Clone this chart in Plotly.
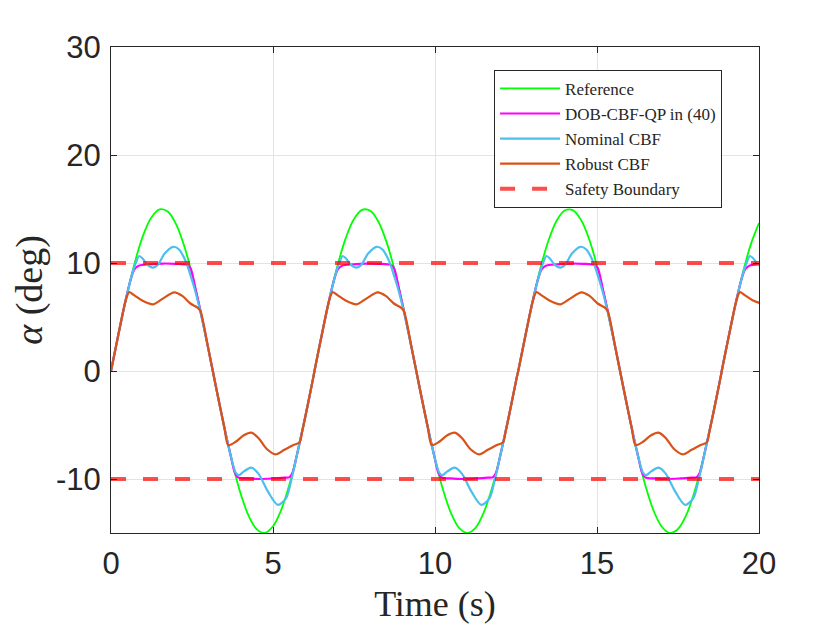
import plotly.graph_objects as go

# ---------------- data ----------------
# Reference trajectory (deg)
t_ref = [0, 0.25, 0.5, 0.75, 1.0, 1.25, 1.5, 1.75, 2.0, 2.25, 2.5, 2.75, 3.0, 3.25, 3.5, 3.75,
         4.0, 4.25, 4.5, 4.75, 5.0, 5.25, 5.5, 5.75, 6.0, 6.25, 6.5, 6.75, 7.0, 7.25, 7.5, 7.75,
         8.0, 8.25, 8.5, 8.75, 9.0, 9.25, 9.5, 9.75, 10.0, 10.25, 10.5, 10.75, 11.0, 11.25, 11.5,
         11.75, 12.0, 12.25, 12.5, 12.75, 13.0, 13.25, 13.5, 13.75, 14.0, 14.25, 14.5, 14.75, 15.0,
         15.25, 15.5, 15.75, 16.0, 16.25, 16.5, 16.75, 17.0, 17.25, 17.5, 17.75, 18.0, 18.25, 18.5,
         18.75, 19.0, 19.25, 19.5, 19.75, 20.0]
y_ref = [0, 3.71, 7.19, 10.22, 12.62, 14.23, 14.96, 14.76, 13.64, 11.67, 8.98, 5.73, 2.12, -1.62,
         -5.26, -8.57, -11.35, -13.42, -14.66, -14.99, -14.38, -12.88, -10.58, -7.62, -4.19, -0.50,
         3.23, 6.75, 9.86, 12.35, 14.07, 14.92, 14.84, 13.84, 11.98, 9.37, 6.18, 2.61, -1.13, -4.79,
         -8.16, -11.02, -13.20, -14.55, -15.00, -14.52, -13.13, -10.93, -8.05, -4.66, -0.99, 2.74,
         6.31, 9.48, 12.06, 13.89, 14.86, 14.90, 14.02, 12.27, 9.75, 6.63, 3.09, -0.63, -4.32, -7.74,
         -10.68, -12.96, -14.42, -15.00, -14.63, -13.37, -11.27, -8.47, -5.14, -1.49, 2.25, 5.85,
         9.08, 11.75, 13.69]

# DOB-CBF-QP in (40)
t_dob = [0, 0.25, 0.5, 0.62, 0.72, 0.85, 1.2, 1.6, 2.0, 2.35, 2.45, 2.6, 2.75, 3.0, 3.25, 3.5, 3.7,
         3.82, 3.92, 4.2, 4.6, 5.0, 5.35, 5.5, 5.6, 5.75, 6.0, 6.25,
         6.28, 6.53, 6.78, 6.90, 7.00, 7.13, 7.48, 7.88, 8.28, 8.63, 8.73, 8.88, 9.03, 9.28, 9.53,
         9.78, 9.98, 10.10, 10.20, 10.48, 10.88, 11.28, 11.63, 11.78, 11.88, 12.03, 12.28, 12.53,
         12.57, 12.82, 13.07, 13.19, 13.29, 13.42, 13.77, 14.17, 14.57, 14.92, 15.02, 15.17, 15.32,
         15.57, 15.82, 16.07, 16.27, 16.39, 16.49, 16.77, 17.17, 17.57, 17.92, 18.07, 18.17, 18.32,
         18.57, 18.82,
         18.85, 19.10, 19.35, 19.47, 19.57, 19.70, 20.05]
y_dob = [0, 3.71, 7.19, 8.6, 9.4, 9.75, 9.88, 9.95, 9.92, 9.82, 9.55, 7.73, 5.73, 2.12, -1.62, -5.26,
         -7.9, -9.4, -9.85, -9.95, -10.0, -9.95, -9.88, -9.85, -9.45, -7.62, -4.19, -0.5,
         0, 3.71, 7.19, 8.6, 9.4, 9.75, 9.88, 9.95, 9.92, 9.82, 9.55, 7.73, 5.73, 2.12, -1.62, -5.26,
         -7.9, -9.4, -9.85, -9.95, -10.0, -9.95, -9.88, -9.85, -9.45, -7.62, -4.19, -0.5,
         0, 3.71, 7.19, 8.6, 9.4, 9.75, 9.88, 9.95, 9.92, 9.82, 9.55, 7.73, 5.73, 2.12, -1.62, -5.26,
         -7.9, -9.4, -9.85, -9.95, -10.0, -9.95, -9.88, -9.85, -9.45, -7.62, -4.19, -0.5,
         0, 3.71, 7.19, 8.6, 9.4, 9.75, 9.88]

# Nominal CBF
t_nom = [0, 0.25, 0.5, 0.65, 0.77, 0.87, 0.98, 1.12, 1.3, 1.45, 1.65, 1.92, 2.1, 2.3, 2.45, 2.6, 2.75,
         3.0, 3.25, 3.5, 3.7, 3.85, 3.95, 4.1, 4.33, 4.55, 4.85, 5.15, 5.4, 5.55, 5.75, 6.0, 6.25,
         6.28, 6.53, 6.78, 6.93, 7.05, 7.15, 7.26, 7.40, 7.58, 7.73, 7.93, 8.20, 8.38, 8.58, 8.73,
         8.88, 9.03, 9.28, 9.53, 9.78, 9.98, 10.13, 10.23, 10.38, 10.61, 10.83, 11.13, 11.43, 11.68,
         11.83, 12.03, 12.28, 12.53,
         12.57, 12.82, 13.07, 13.22, 13.34, 13.44, 13.55, 13.69, 13.87, 14.02, 14.22, 14.49, 14.67,
         14.87, 15.02, 15.17, 15.32, 15.57, 15.82, 16.07, 16.27, 16.42, 16.52, 16.67, 16.90, 17.12,
         17.42, 17.72, 17.97, 18.12, 18.32, 18.57, 18.82,
         18.85, 19.10, 19.35, 19.50, 19.62, 19.72, 19.83, 19.97, 20.15]
y_nom = [0, 3.7, 7.15, 8.95, 10.05, 10.65, 10.4, 9.85, 9.57, 9.85, 10.85, 11.5, 11.25, 10.2, 8.9, 7.4,
         5.6, 2.12, -1.62, -5.26, -7.9, -9.4, -9.65, -9.3, -8.95, -9.5, -11.2, -12.4, -11.8, -10.3,
         -7.62, -4.19, -0.5,
         0, 3.7, 7.15, 8.95, 10.05, 10.65, 10.4, 9.85, 9.57, 9.85, 10.85, 11.5, 11.25, 10.2, 8.9, 7.4,
         5.6, 2.12, -1.62, -5.26, -7.9, -9.4, -9.65, -9.3, -8.95, -9.5, -11.2, -12.4, -11.8, -10.3,
         -7.62, -4.19, -0.5,
         0, 3.7, 7.15, 8.95, 10.05, 10.65, 10.4, 9.85, 9.57, 9.85, 10.85, 11.5, 11.25, 10.2, 8.9, 7.4,
         5.6, 2.12, -1.62, -5.26, -7.9, -9.4, -9.65, -9.3, -8.95, -9.5, -11.2, -12.4, -11.8, -10.3,
         -7.62, -4.19, -0.5,
         0, 3.7, 7.15, 8.95, 10.05, 10.65, 10.4, 9.85, 9.57]

# Robust CBF
t_rob = [0, 0.25, 0.45, 0.56, 0.7, 0.95, 1.3, 1.6, 1.95, 2.2, 2.45, 2.68, 2.76, 3.0, 3.25, 3.5, 3.62,
         3.85, 4.1, 4.33, 4.55, 4.8, 5.08, 5.35, 5.6, 5.82, 5.9, 6.0, 6.25,
         6.28, 6.53, 6.73, 6.84, 6.98, 7.23, 7.58, 7.88, 8.23, 8.48, 8.73, 8.96, 9.04, 9.28, 9.53,
         9.78, 9.90, 10.13, 10.38, 10.61, 10.83, 11.08, 11.36, 11.63, 11.88, 12.10, 12.18, 12.28, 12.53,
         12.57, 12.82, 13.02, 13.13, 13.27, 13.52, 13.87, 14.17, 14.52, 14.77, 15.02, 15.25, 15.33,
         15.57, 15.82, 16.07, 16.19, 16.42, 16.67, 16.90, 17.12, 17.37, 17.65, 17.92, 18.17, 18.39,
         18.47, 18.57, 18.82,
         18.85, 19.10, 19.30, 19.41, 19.55, 19.80, 20.15]
y_rob = [0, 3.7, 6.5, 7.3, 7.05, 6.55, 6.17, 6.7, 7.28, 6.95, 6.25, 5.85, 5.55, 2.12, -1.62, -5.26,
         -6.85, -6.55, -5.95, -5.71, -6.2, -7.2, -7.72, -7.3, -6.9, -6.6, -5.61, -4.19, -0.5,
         0, 3.7, 6.5, 7.3, 7.05, 6.55, 6.17, 6.7, 7.28, 6.95, 6.25, 5.85, 5.55, 2.12, -1.62, -5.26,
         -6.85, -6.55, -5.95, -5.71, -6.2, -7.2, -7.72, -7.3, -6.9, -6.6, -5.61, -4.19, -0.5,
         0, 3.7, 6.5, 7.3, 7.05, 6.55, 6.17, 6.7, 7.28, 6.95, 6.25, 5.85, 5.55, 2.12, -1.62, -5.26,
         -6.85, -6.55, -5.95, -5.71, -6.2, -7.2, -7.72, -7.3, -6.9, -6.6, -5.61, -4.19, -0.5,
         0, 3.7, 6.5, 7.3, 7.05, 6.55, 6.17]

# Safety boundaries
t_bound = [0, 20]
upper_bound = [10, 10]
lower_bound = [-10, -10]

x_ticks = [0, 5, 10, 15, 20]
x_tick_labels = ["0", "5", "10", "15", "20"]
y_ticks = [-10, 0, 10, 20, 30]
y_tick_labels = ["-10", "0", "10", "20", "30"]

# ---------------- figure ----------------
fig = go.Figure()
fig.add_trace(go.Scatter(x=t_ref, y=y_ref, mode="lines", name="Reference",
                         line=dict(color="#00FF00", width=1.8, shape="spline", smoothing=1.0)))
fig.add_trace(go.Scatter(x=t_dob, y=y_dob, mode="lines", name="DOB-CBF-QP in (40)",
                         line=dict(color="#FF00FF", width=2.2, shape="spline", smoothing=0.8)))
fig.add_trace(go.Scatter(x=t_nom, y=y_nom, mode="lines", name="Nominal CBF",
                         line=dict(color="#4DBEEE", width=2.2, shape="spline", smoothing=0.8)))
fig.add_trace(go.Scatter(x=t_rob, y=y_rob, mode="lines", name="Robust CBF",
                         line=dict(color="#D95319", width=2.2, shape="spline", smoothing=0.8)))
fig.add_trace(go.Scatter(x=t_bound, y=upper_bound, mode="lines", name="Safety Boundary",
                         line=dict(color="rgba(255,0,0,0.7)", width=4, dash="15px,17px")))
fig.add_trace(go.Scatter(x=t_bound, y=lower_bound, mode="lines", name="Safety Boundary",
                         showlegend=False,
                         line=dict(color="rgba(255,0,0,0.7)", width=4, dash="15px,17px")))

serif = "Liberation Serif, Times New Roman, serif"
axis_common = dict(showline=True, linecolor="#262626", linewidth=1, mirror="ticks",
                   ticks="inside", ticklen=6, tickcolor="#262626",
                   showgrid=True, gridcolor="#E3E3E3", gridwidth=1, zeroline=False,
                   tickfont=dict(family="Liberation Sans, Arial, sans-serif", size=31, color="#262626"))

fig.update_xaxes(range=[0, 20], tickvals=x_ticks, ticktext=x_tick_labels,
                 ticklabelstandoff=3,
                 title=dict(text="Time (s)", standoff=10,
                            font=dict(family=serif, size=36, color="#262626")),
                 **axis_common)
fig.update_yaxes(range=[-15, 30], tickvals=y_ticks, ticktext=y_tick_labels,
                 ticklabelstandoff=3,
                 title=dict(text="<i>α</i> (deg)", standoff=9,
                            font=dict(family=serif, size=38, color="#262626")),
                 **axis_common)

# the page body adds an 8px offset, so the figure is 8px smaller and the
# left/top margins are 8px smaller to keep the plot area where it belongs
fig.update_layout(
    width=832, height=622,
    margin=dict(l=101, r=81, t=39, b=97),
    paper_bgcolor="white", plot_bgcolor="white",
    showlegend=True,
    legend=dict(x=0.943, y=0.953, xanchor="right", yanchor="top",
                bgcolor="white", bordercolor="#262626", borderwidth=1,
                font=dict(family=serif, size=17, color="#262626"),
                itemwidth=60, tracegroupgap=0),
)

fig.write_html("out.html")
